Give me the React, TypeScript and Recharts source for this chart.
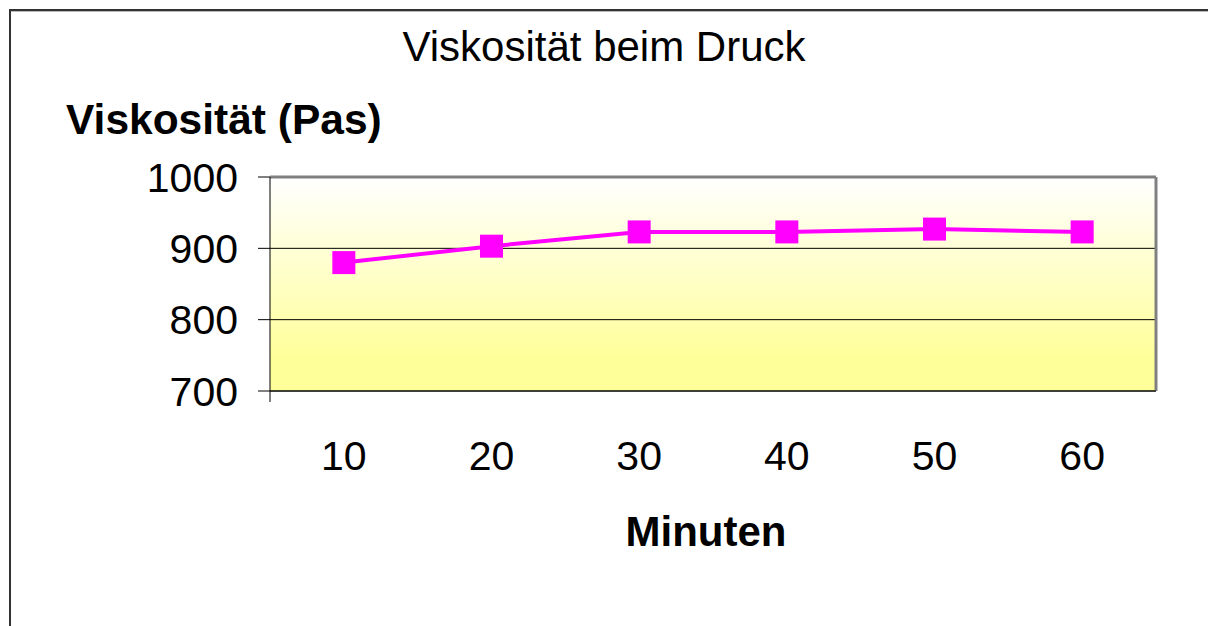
import React from "react";
import { LineChart, Line, XAxis, YAxis, CartesianGrid, ReferenceLine } from "recharts";

// Minuten / Viskosität (Pas)
const minutes = [10, 20, 30, 40, 50, 60];
const viscosity = [880, 903, 923, 923, 927, 923];
const xTicks = [5, 10, 20, 30, 40, 50, 60];
const yTicks = [700, 800, 900, 1000];

const rows = minutes.map((m, i) => ({ min: m, visc: viscosity[i] }));

const FONT = "'Liberation Sans', Arial, sans-serif";

function XTick(props: any) {
    const { x, y, payload } = props;
    // left edge: only a small tick mark, no label
    if (payload.value === 5) {
        return <line x1={x} x2={x} y1={y - 50} y2={y - 39} stroke="#000" />;
    }
    return (
        <text x={x} y={y} dy="0.71em" textAnchor="middle" fontSize={41} fill="#000" fontFamily={FONT}>
            {payload.value}
        </text>
    );
}

function SquareDot(props: any) {
    const { cx, cy, index } = props;
    return <rect key={index} x={cx - 11.5} y={cy - 11.5} width={23} height={23} fill="#FF00FF" />;
}

export default function App() {
    return (
        <div style={{ position: "fixed", left: 0, top: 0, width: 1208, height: 626, background: "#fff", fontFamily: FONT, overflow: "hidden" }}>
            <style>{`html, body { margin: 0; overflow: hidden; }`}</style>
            {/* frame: top and left edges only */}
            <div style={{ position: "absolute", left: 9, top: 9, width: 1199, height: 2, background: "#333" }} />
            <div style={{ position: "absolute", left: 9, top: 11, width: 1199, height: 1, background: "#bbb" }} />
            <div style={{ position: "absolute", left: 9, top: 9, width: 2, height: 617, background: "#333" }} />
            <div style={{ position: "absolute", left: 0, top: 26, width: 1208, textAlign: "center", fontSize: 42, lineHeight: 1 }}>
                Viskosität beim Druck
            </div>
            <div style={{ position: "absolute", left: 66, top: 99, fontSize: 42.5, lineHeight: 1, fontWeight: "bold" }}>
                Viskosität (Pas)
            </div>
            <div style={{ position: "absolute", left: 506, top: 511, width: 400, textAlign: "center", fontSize: 42, lineHeight: 1, fontWeight: "bold" }}>
                Minuten
            </div>
            <div style={{ position: "absolute", left: 0, top: 0 }}>
                <LineChart width={1208} height={626} data={rows} margin={{ top: 177, right: 52, bottom: 155, left: 140 }}>
                    <defs>
                        <linearGradient id="plotFill" x1="0" y1="0" x2="0" y2="1">
                            <stop offset="0" stopColor="#FFFFFF" />
                            <stop offset="0.85" stopColor="#FFFF99" />
                            <stop offset="1" stopColor="#FFFF99" />
                        </linearGradient>
                    </defs>
                    <CartesianGrid vertical={false} fill="url(#plotFill)" fillOpacity={1} stroke="#000" />
                    <XAxis
                        dataKey="min"
                        type="number"
                        domain={[5, 65]}
                        ticks={xTicks}
                        interval={0}
                        tick={<XTick />}
                        tickLine={false}
                        tickSize={11}
                        tickMargin={39}
                        height={80}
                        axisLine={{ stroke: "#000" }}
                    />
                    <YAxis
                        domain={[700, 1000]}
                        ticks={yTicks}
                        interval={0}
                        width={130}
                        tickSize={12}
                        tickMargin={20}
                        tick={{ fontSize: 41, fill: "#000", fontFamily: FONT }}
                        tickLine={{ stroke: "#000" }}
                        axisLine={{ stroke: "#000" }}
                    />
                    <ReferenceLine y={1000} stroke="#808080" strokeWidth={3} />
                    <ReferenceLine x={65} stroke="#808080" strokeWidth={3} />
                    <Line
                        dataKey="visc"
                        stroke="#FF00FF"
                        strokeWidth={4}
                        dot={SquareDot}
                        activeDot={false}
                        isAnimationActive={false}
                    />
                </LineChart>
            </div>
        </div>
    );
}
